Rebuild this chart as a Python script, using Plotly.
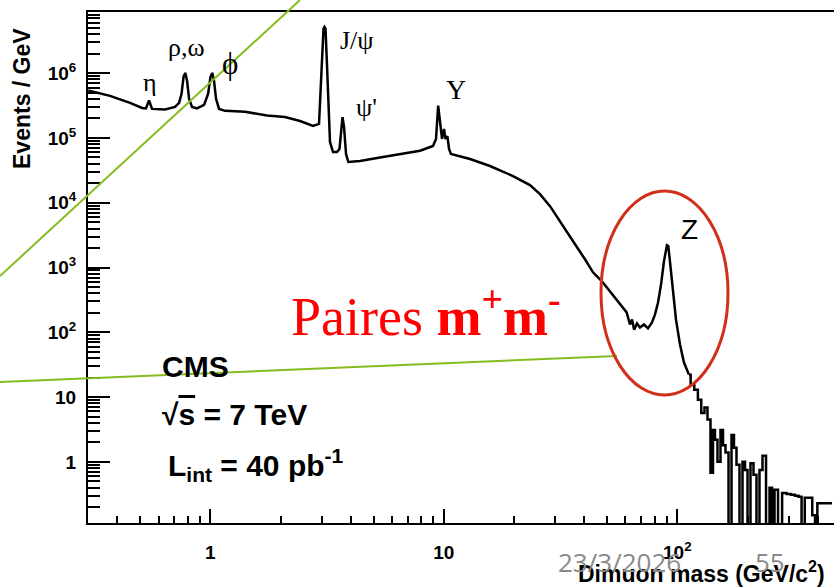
import math
import plotly.graph_objects as go

# Dimuon invariant-mass spectrum (events per GeV), continuum + resonance peaks
mass_gev = [
    0.300, 0.372, 0.453, 0.510, 0.530, 0.546, 0.563, 0.640, 0.706, 0.735,
    0.753, 0.768, 0.781, 0.795, 0.811, 0.835, 0.877, 0.940, 0.978, 1.002,
    1.019, 1.037, 1.058, 1.090, 1.156, 1.408, 1.749, 2.089, 2.422, 2.754,
    2.921, 2.994, 3.053, 3.083, 3.114, 3.160, 3.207, 3.255, 3.354, 3.488,
    3.575, 3.628, 3.683, 3.738, 3.813, 3.900, 4.377, 5.331, 6.494, 7.909,
    8.991, 9.26, 9.46, 9.63, 9.824, 10.02, 10.17, 10.36, 10.53, 10.73,
    12.95, 15.77, 19.79, 23.39, 25.82, 28.5, 31.45, 36.48, 40.25, 43.55,
    47.46, 51.5, 55.7, 60.7, 62.7, 64.0, 65.3, 67.2, 69.2, 72.0,
    74.9, 77.9, 80.3, 82.7, 85.2, 87.7, 90.3, 91.5, 93.0, 95.9,
    98.7, 102.7, 106.8, 112.2,
]
events_per_gev = [
    5.40e5, 4.47e5, 3.48e5, 2.91e5, 2.86e5, 3.78e5, 2.81e5, 2.76e5, 3.02e5, 3.48e5,
    4.80e5, 8.80e5, 1.01e6, 7.63e5, 4.02e5, 3.02e5, 2.86e5, 3.24e5, 4.80e5, 8.80e5,
    1.01e6, 7.63e5, 4.02e5, 2.81e5, 2.62e5, 2.53e5, 2.23e5, 2.11e5, 1.83e5, 1.53e5,
    1.65e5, 1.35e6, 4.87e6, 5.17e6, 4.87e6, 1.35e6, 2.81e5, 8.67e4, 6.07e4, 6.07e4,
    6.76e4, 1.38e5, 2.09e5, 1.48e5, 5.65e4, 4.25e4, 4.41e4, 4.99e4, 5.65e4, 6.36e4,
    7.52e4, 9.66e4, 3.16e5, 1.65e5, 9.66e4, 1.38e5, 9.66e4, 1.07e5, 6.76e4, 5.65e4,
    4.73e4, 3.69e4, 2.58e4, 1.87e4, 1.36e4, 8.86e3, 5.25e3, 2.29e3, 1.34e3, 843,
    618, 428, 300, 203, 132, 158, 110, 137, 119, 132,
    115, 142, 189, 289, 550, 1250, 2210, 2150, 1250, 385,
    158, 64.7, 34.1, 22.2,
]

# High-mass tail, low statistics: drawn as a step histogram, empty bins = 0
tail_mass_gev = [
    112.2, 115.9, 120.6, 124.5, 128.9, 132.7, 136.7, 140.8, 143.6, 146.4,
    150.9, 155.4, 158.5, 163.3, 168.2, 173.2, 176.6, 182.0, 187.4, 193.1,
    197.0, 202.8, 208.9, 215.2, 221.6, 228.3, 235.2, 244.7, 252.0, 257.0,
    264.8, 275.4, 287.0, 300.8, 312.8, 325.5, 335.3, 346.0, 357.0, 372.0,
    385.0, 393.0, 403.0, 416.0, 430.0, 445.0, 460.0,
]
tail_events_per_gev = [
    22.2, 15.6, 13.0, 9.1, 5.7, 6.9, 4.5, 0.68, 3.1, 2.2,
    1.0, 3.1, 1.8, 1.4, 0, 2.6, 1.65, 0.9, 0, 1.0,
    0.75, 0, 0.95, 0.63, 0, 0.75, 1.24, 0, 0.40, 0,
    0.37, 0, 0.33, 0.32, 0.31, 0.30, 0.29, 0, 0.28, 0.28,
    0.15, 0, 0.23, 0.23, 0.23, 0.23, 0.23,
]

x_major = [1, 10, 100]
x_major_text = ["1", "10", "10<sup>2</sup>"]
y_major = [1, 10, 100, 1e3, 1e4, 1e5, 1e6]
y_major_text = ["1", "10", "10<sup>2</sup>", "10<sup>3</sup>", "10<sup>4</sup>",
                "10<sup>5</sup>", "10<sup>6</sup>"]

X_RANGE = (0.2993, 469.0)
Y_RANGE = (0.1138, 8.8e6)

W, H = 834, 588
L, R, T, B = 88, 834, 12, 523


def paper(px, py):
    """Pixel position on the page -> paper coordinates."""
    return (px - L) / (R - L), (B - py) / (B - T)


def minor_vals(lo, hi):
    vals = []
    for e in range(-2, 8):
        for k in range(2, 10):
            v = k * 10 ** e
            if lo < v < hi:
                vals.append(v)
    return vals


FLOOR = 1e-3  # empty bins drop below the visible axis range
tail_draw = [v if v > 0 else FLOOR for v in tail_events_per_gev]

fig = go.Figure()
fig.add_trace(go.Scatter(x=mass_gev, y=events_per_gev, mode="lines",
                         line=dict(color="black", width=2.5), hoverinfo="skip"))
fig.add_trace(go.Scatter(x=tail_mass_gev, y=tail_draw, mode="lines",
                         line=dict(color="black", width=2.5, shape="hvh"),
                         hoverinfo="skip"))

tick_font = dict(family="Liberation Sans, Arial", size=19, color="black", weight="bold")

fig.update_xaxes(
    type="log", range=[math.log10(X_RANGE[0]), math.log10(X_RANGE[1])],
    showline=True, linecolor="black", linewidth=2, mirror=True,
    ticks="inside", ticklen=14, tickwidth=2, tickcolor="black",
    tickmode="array", tickvals=x_major, ticktext=x_major_text,
    tickfont=tick_font, ticklabelstandoff=11,
    showgrid=False, zeroline=False,
    minor=dict(tickmode="array", tickvals=minor_vals(*X_RANGE), ticks="inside",
               ticklen=7, tickwidth=2, tickcolor="black", showgrid=False),
)
fig.update_yaxes(
    type="log", range=[math.log10(Y_RANGE[0]), math.log10(Y_RANGE[1])],
    showline=True, linecolor="black", linewidth=2, mirror=False,
    ticks="inside", ticklen=22, tickwidth=2, tickcolor="black",
    tickmode="array", tickvals=y_major, ticktext=y_major_text,
    tickfont=tick_font, ticklabelstandoff=6,
    showgrid=False, zeroline=False,
    minor=dict(tickmode="array", tickvals=minor_vals(*Y_RANGE), ticks="inside",
               ticklen=12, tickwidth=2, tickcolor="black", showgrid=False),
)

annotations = []


def label(text, px, py, size, family, color="black", xanchor="center", weight="normal"):
    x, y = paper(px, py)
    annotations.append(dict(text=text, x=x, y=y, xref="paper", yref="paper",
                            xanchor=xanchor, yanchor="middle", showarrow=False,
                            font=dict(size=size, family=family, color=color, weight=weight)))


SERIF = "Liberation Serif, DejaVu Serif, Times New Roman, serif"
SANS = "Liberation Sans, Arial, sans-serif"

# resonance names
label("η", 149.5, 82, 26, SERIF)
label("ρ,ω", 186, 47, 26, SERIF)
label("ϕ", 230, 63, 31, SERIF)
label("J/ψ", 357, 40, 26, SERIF)
label("ψ'", 366, 107, 26, SERIF)
label("Υ", 456, 89, 28, SERIF)
label("Z", 689, 229, 28, SANS)

# experiment info
label("CMS", 160, 366, 30, SANS, xanchor="left", weight="bold")
label("√<span style='text-decoration:overline'>s</span> = 7 TeV", 160, 414, 30, SANS,
      xanchor="left", weight="bold")
label("L<sub>int</sub> = 40 pb<sup>-1</sup>", 166, 465, 30, SANS, xanchor="left", weight="bold")

# axis titles
x, y = paper(22, 99)
annotations.append(dict(text="Events / GeV", x=x, y=y, xref="paper", yref="paper",
                        textangle=-90, showarrow=False, xanchor="center", yanchor="middle",
                        font=dict(size=23, family=SANS, color="black", weight="bold")))
label("Dimuon mass (GeV/c<sup>2</sup>)", 827, 572, 23, SANS, xanchor="right", weight="bold")

# slide footer
label("23/3/2026", 619, 562, 26, "Open Sans, sans-serif", color="#8a8a8a")
label("55", 770, 562, 26, "Open Sans, sans-serif", color="#8a8a8a")

# highlighted text
label("Paires <b>m<sup>+</sup>m<sup>-</sup></b>", 289, 312, 54, SERIF,
      color="#ff0000", xanchor="left")

shapes = []
GREEN = "#86bd1e"
for (ax, ay), (bx, by) in [((0, 276), (300, 0)), ((0, 382), (617, 356))]:
    x0, y0 = paper(ax, ay)
    x1, y1 = paper(bx, by)
    shapes.append(dict(type="line", xref="paper", yref="paper", x0=x0, y0=y0,
                       x1=x1, y1=y1, line=dict(color=GREEN, width=2)))
ex0, ey0 = paper(601, 395)
ex1, ey1 = paper(728, 191)
shapes.append(dict(type="circle", xref="paper", yref="paper", x0=ex0, y0=ey0,
                   x1=ex1, y1=ey1, line=dict(color="#d0301a", width=3)))

fig.update_layout(
    width=W, height=H,
    margin=dict(l=L, r=W - R, t=T, b=H - B),
    paper_bgcolor="white", plot_bgcolor="white",
    showlegend=False, annotations=annotations, shapes=shapes,
)

fig.write_html("out.html")
